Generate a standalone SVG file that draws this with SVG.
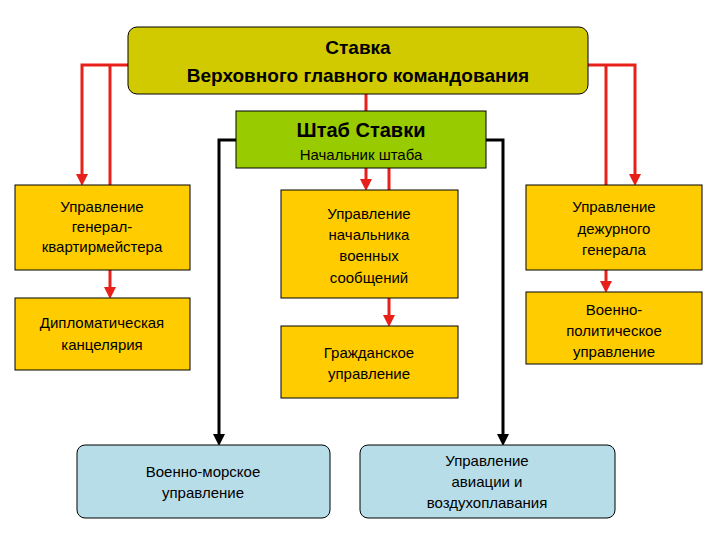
<svg xmlns="http://www.w3.org/2000/svg" width="720" height="540" viewBox="0 0 720 540">
<style>
text{font-family:"Liberation Sans",Arial,sans-serif;fill:#000;text-anchor:middle}
.t{font-size:15px}
.y{fill:#FFCC00;stroke:#000;stroke-width:1}
.b{fill:#B7DDE8;stroke:#000;stroke-width:1}
.r{stroke:#E8201A;stroke-width:3;fill:none}
.k{stroke:#000;stroke-width:3;fill:none}
</style>
<defs>
<marker id="ar" markerWidth="4" markerHeight="4" refX="2" refY="2" orient="auto" markerUnits="strokeWidth"><path d="M0,0L4,2L0,4z" fill="#E8201A"/></marker>
<marker id="ak" markerWidth="4" markerHeight="4" refX="2" refY="2" orient="auto" markerUnits="strokeWidth"><path d="M0,0L4,2L0,4z" fill="#000"/></marker>
</defs>
<rect width="720" height="540" fill="#fff"/>
<g id="connectors">
<path class="r" d="M128,65H82V180" marker-end="url(#ar)"/>
<path class="r" d="M110,65V185"/>
<path class="r" d="M588,65H635V180" marker-end="url(#ar)"/>
<path class="r" d="M606,65V185"/>
<path class="r" d="M366,94V111"/>
<path class="r" d="M366,168V185" marker-end="url(#ar)"/>
<path class="r" d="M389,168V190"/>
<path class="r" d="M110,270V293" marker-end="url(#ar)"/>
<path class="r" d="M389,298V321" marker-end="url(#ar)"/>
<path class="r" d="M606,270V287" marker-end="url(#ar)"/>
<path class="k" d="M236,140H219V440" marker-end="url(#ak)"/>
<path class="k" d="M486,140H503V440" marker-end="url(#ak)"/>
</g>
<g id="stavka">
<rect x="128" y="27" width="460" height="67" rx="9" fill="#D2CA00" stroke="#000"/>
<text x="358" y="54" font-size="19" font-weight="bold">Ставка</text>
<text x="358" y="82" font-size="19" font-weight="bold">Верховного главного командования</text>
</g>
<g id="shtab">
<rect x="236" y="111" width="250" height="57" fill="#99CC00" stroke="#000"/>
<text x="361" y="137" font-size="20" font-weight="bold">Штаб Ставки</text>
<text x="361" y="160" class="t">Начальник штаба</text>
</g>
<g id="genkvart">
<rect class="y" x="15" y="185" width="175" height="85"/>
<text class="t" x="102" y="212">Управление</text>
<text class="t" x="102" y="232">генерал-</text>
<text class="t" x="102" y="252">квартирмейстера</text>
</g>
<g id="diplom">
<rect class="y" x="15" y="298" width="175" height="72"/>
<text class="t" x="102" y="328">Дипломатическая</text>
<text class="t" x="102" y="350">канцелярия</text>
</g>
<g id="voensoob">
<rect class="y" x="281" y="190" width="177" height="108"/>
<text class="t" x="369" y="219">Управление</text>
<text class="t" x="369" y="240">начальника</text>
<text class="t" x="369" y="261">военных</text>
<text class="t" x="369" y="283">сообщений</text>
</g>
<g id="grazhd">
<rect class="y" x="281" y="326" width="177" height="72"/>
<text class="t" x="369" y="358">Гражданское</text>
<text class="t" x="369" y="379">управление</text>
</g>
<g id="dezhur">
<rect class="y" x="526" y="185" width="176" height="85"/>
<text class="t" x="614" y="212">Управление</text>
<text class="t" x="614" y="234">дежурного</text>
<text class="t" x="614" y="255">генерала</text>
</g>
<g id="voenpolit">
<rect class="y" x="526" y="292" width="176" height="72"/>
<text class="t" x="614" y="315">Военно-</text>
<text class="t" x="614" y="336">политическое</text>
<text class="t" x="614" y="357">управление</text>
</g>
<g id="morskoe">
<rect class="b" x="77" y="445" width="253" height="73" rx="8"/>
<text class="t" x="203" y="477">Военно-морское</text>
<text class="t" x="203" y="498">управление</text>
</g>
<g id="aviacia">
<rect class="b" x="360" y="445" width="255" height="73" rx="8"/>
<text class="t" x="487" y="466">Управление</text>
<text class="t" x="487" y="487">авиации и</text>
<text class="t" x="487" y="508">воздухоплавания</text>
</g>
</svg>
